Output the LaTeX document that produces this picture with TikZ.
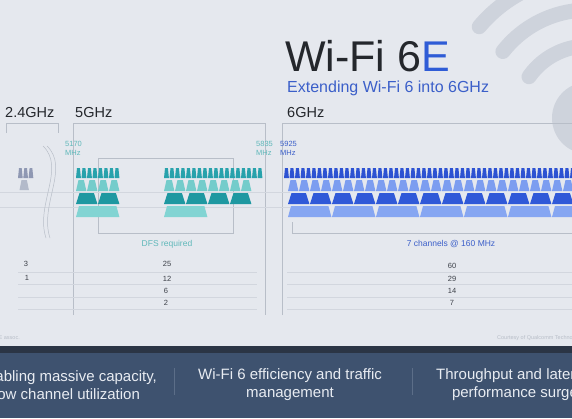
\documentclass[tikz,border=0pt]{standalone}
\usepackage{fontspec}
\setmainfont{Liberation Sans}
\usetikzlibrary{positioning}
\definecolor{slidebg}{RGB}{229,232,238}
\definecolor{wavegrey}{RGB}{206,211,220}
\definecolor{framegrey}{RGB}{184,190,200}
\definecolor{gridgrey}{RGB}{210,214,222}
\definecolor{labeldark}{RGB}{36,39,44}
\definecolor{numgrey}{RGB}{60,64,72}
\definecolor{titleblue}{RGB}{47,92,214}
\definecolor{subblue}{RGB}{59,95,201}
\definecolor{tealtext}{RGB}{96,184,186}
\definecolor{tealA}{RGB}{40,162,172}
\definecolor{tealB}{RGB}{116,204,203}
\definecolor{tealC}{RGB}{30,152,161}
\definecolor{tealD}{RGB}{130,212,211}
\definecolor{blueA}{RGB}{45,82,210}
\definecolor{blueB}{RGB}{124,157,240}
\definecolor{blueC}{RGB}{48,89,216}
\definecolor{blueD}{RGB}{134,166,242}
\definecolor{greyA}{RGB}{143,152,179}
\definecolor{greyB}{RGB}{179,186,202}
\definecolor{bandbg}{RGB}{62,82,111}
\definecolor{bandtop}{RGB}{43,53,69}
\definecolor{bandtext}{RGB}{232,236,242}
\definecolor{bandsep}{RGB}{92,110,136}

% one row of channel blocks: start x, top y, width, count, height, slant, colour
\newcommand{\chanrow}[7]{%
  \foreach \k in {1,...,#4} {
    \fill[#7] ({#1+(\k-1)*#3+#6},#2) -- ({#1+\k*#3-0.6-#6},#2)
      -- ({#1+\k*#3-0.6},{#2+#5}) -- ({#1+(\k-1)*#3},{#2+#5}) -- cycle;
  }}

\begin{document}
\begin{tikzpicture}[
    x=1pt, y=-1pt,
    frame/.style={draw=framegrey, line width=0.5pt},
    grid/.style={draw=gridgrey, line width=0.4pt},
    wave/.style={draw=wavegrey, line width=15pt, line cap=round},
    bandlabel/.style={font=\fontsize{14.5}{16}\selectfont, text=labeldark,
                      inner sep=0pt, anchor=base west},
    freq/.style={font=\fontsize{7.5}{9}\selectfont, align=left,
                 inner sep=0pt, anchor=north west},
    num/.style={font=\fontsize{7.5}{8}\selectfont, text=numgrey, inner sep=0pt},
    note/.style={font=\fontsize{8.5}{9}\selectfont, inner sep=0pt},
    claim/.style={font=\fontsize{15}{18}\selectfont, text=bandtext,
                  align=center, inner sep=0pt}
]
    \clip (0,0) rectangle (572,418);
    \fill[slidebg] (0,0) rectangle (572,418);

    % wifi waves
    \coordinate (wc) at (588,118);
    \fill[wavegrey] (wc) circle[radius=36];
    \draw[wave] (wc) ++(215:72) arc[start angle=215, end angle=300, radius=72];
    \draw[wave] (wc) ++(218:108) arc[start angle=218, end angle=300, radius=108];
    \draw[wave] (wc) ++(220:142) arc[start angle=220, end angle=300, radius=142];

    % title
    \node[anchor=base west, inner sep=0pt, text=labeldark,
          font=\fontsize{43}{43}\selectfont] (title) at (285,71)
          {Wi-Fi 6\textcolor{titleblue}{E}};
    \node[anchor=base west, inner sep=0pt, text=subblue,
          font=\fontsize{16}{18}\selectfont] (subtitle) at (287,92)
          {Extending Wi-Fi 6 into 6GHz};

    % band labels
    \node[bandlabel] (b24) at (5,117) {2.4GHz};
    \node[bandlabel] (b5) at (75,117) {5GHz};
    \node[bandlabel] (b6) at (287,117) {6GHz};

    % band frames
    \draw[frame] (6,133) -- (6,123) -- (58,123) -- (58,133);
    \draw[frame] (73,315) -- (73,123) -- (265,123) -- (265,315);
    \draw[frame] (282,315) -- (282,123) -- (572,123);
    \draw[frame] (98,233) rectangle (233,158);
    \draw[frame] (292,222) -- (292,233) -- (572,233);
    \draw[grid] (0,192) -- (290,192);
    \draw[grid] (0,207) -- (290,207);

    % band break
    \draw[frame] (43,146) .. controls (66,168) and (35,205) .. (46,238);
    \draw[frame] (47,146) .. controls (70,168) and (39,205) .. (50,238);

    % frequency edges
    \node[freq, text=tealtext] (f5170) at (65,141) {5170\\MHz};
    \node[freq, text=tealtext] (f5835) at (256,141) {5835\\MHz};
    \node[freq, text=subblue] (f5925) at (280,141) {5925\\MHz};

    % 2.4GHz channels
    \chanrow{18}{168}{5.3}{3}{10}{1}{greyA}
    \chanrow{19.5}{180}{10}{1}{10}{2}{greyB}

    % 5GHz channels
    \chanrow{76}{168}{5.5}{8}{10}{1}{tealA}
    \chanrow{76}{180}{11}{4}{11}{2.5}{tealB}
    \chanrow{76}{193}{22}{2}{11}{3.5}{tealC}
    \chanrow{76}{206}{44}{1}{11}{3}{tealD}
    \chanrow{164}{168}{5.5}{18}{10}{1}{tealA}
    \chanrow{164}{180}{11}{8}{11}{2.5}{tealB}
    \chanrow{164}{193}{22}{4}{11}{3.5}{tealC}
    \chanrow{164}{206}{44}{1}{11}{3}{tealD}

    % 6GHz channels
    \chanrow{284}{168}{5.5}{53}{10}{1}{blueA}
    \chanrow{288}{180}{11}{27}{11}{2.5}{blueB}
    \chanrow{288}{193}{22}{14}{11}{3.5}{blueC}
    \chanrow{288}{206}{44}{7}{11}{3}{blueD}

    \node[note, text=tealtext] (dfs) at (167,244) {DFS required};
    \node[note, text=subblue] (wide) at (451,244) {7 channels @ 160 MHz};

    % channel counts
    \foreach \yy in {271.7,284.3,297.3,309.3} {
        \draw[grid] (18,\yy) -- (257,\yy);
        \draw[grid] (287,\yy) -- (572,\yy);
    }
    \node[num] (c24a) at (26,264) {3};
    \node[num] (c24b) at (27,278) {1};
    \node[num] (c5a) at (167,264) {25};
    \node[num] (c5b) at (167,279) {12};
    \node[num] (c5c) at (166,291) {6};
    \node[num] (c5d) at (166,303) {2};
    \node[num] (c6a) at (452,266) {60};
    \node[num] (c6b) at (452,279) {29};
    \node[num] (c6c) at (452,291) {14};
    \node[num] (c6d) at (452,303) {7};

    \node[anchor=base east, inner sep=0pt, text=framegrey,
          font=\fontsize{5.5}{6}\selectfont] (src) at (20,339) {E assoc.};
    \node[anchor=base west, inner sep=0pt, text=framegrey,
          font=\fontsize{5.5}{6}\selectfont] (credit) at (497,339)
          {Courtesy of Qualcomm Technologies};

    % bottom band
    \fill[bandtop] (0,346) rectangle (572,354);
    \fill[bandbg] (0,353) rectangle (572,418);
    \node[claim] (capacity) at (67,385)
          {Enabling massive capacity,\\low channel utilization};
    \node[claim] (traffic) at (290,385)
          {Wi-Fi 6 efficiency and traffic\\management};
    \node[claim] (latency) at (515,385)
          {Throughput and latency\\performance surge};
    \draw[bandsep, line width=0.6pt] (174,368) -- (174,395);
    \draw[bandsep, line width=0.6pt] (412,368) -- (412,395);
\end{tikzpicture}
\end{document}
